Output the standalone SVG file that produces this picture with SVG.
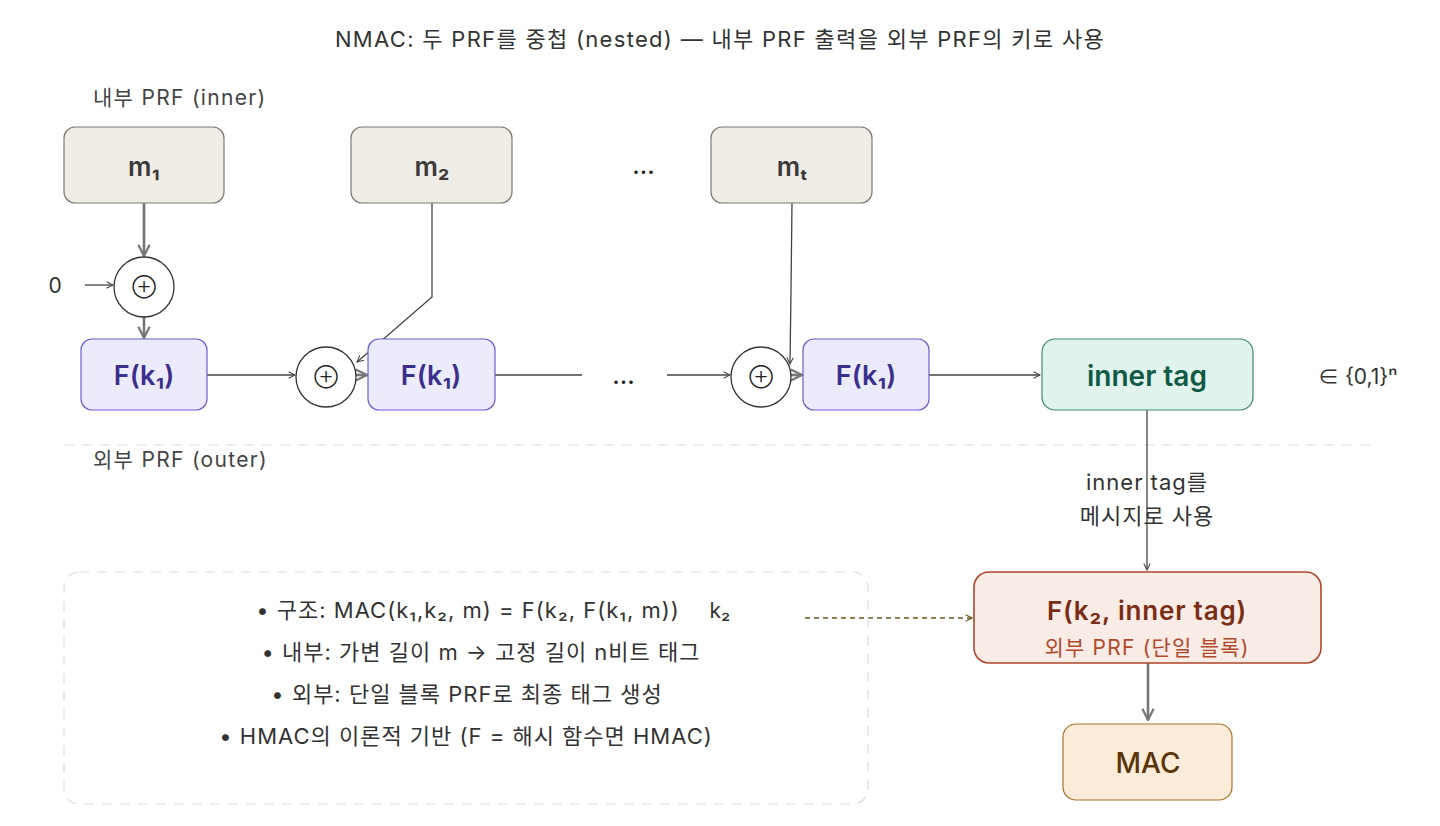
<svg xmlns="http://www.w3.org/2000/svg" width="1440" height="826" viewBox="0 0 1440 826">
<defs>
<style>
text{font-family:Inter,"Noto Sans CJK KR",sans-serif;}
.t{fill:#333;font-size:22px;letter-spacing:1.3px;}
.sec{fill:#444;font-size:21px;letter-spacing:1.3px;}
.msg rect{fill:#f0ede6;stroke:#7d7a72;stroke-width:1.2;}
.msg text{fill:#3a3a3a;font-size:26px;font-weight:600;text-anchor:middle;}
.prf rect{fill:#ecebfb;stroke:#6a5fcf;stroke-width:1.2;}
.prf text{fill:#3b2f8c;font-size:27px;font-weight:600;text-anchor:middle;}
.xor circle{fill:#fff;stroke:#333;stroke-width:1.3;}
.xor text{fill:#222;font-size:17px;text-anchor:middle;}
.thin{stroke:#444;stroke-width:1.3;fill:none;}
.thick{stroke:#777;stroke-width:2.6;fill:none;}
.note{fill:#333;font-size:22px;letter-spacing:1px;text-anchor:middle;}
.dots{fill:#222;font-size:26px;text-anchor:middle;letter-spacing:1px;}
</style>
<marker id="a" viewBox="0 0 10 10" refX="9" refY="5" markerWidth="8" markerHeight="8" markerUnits="userSpaceOnUse" orient="auto"><path d="M1,1 L9,5 L1,9" fill="none" stroke="#444" stroke-width="1.3"/></marker>
<marker id="ak" viewBox="0 0 10 10" refX="9" refY="5" markerWidth="14" markerHeight="14" markerUnits="userSpaceOnUse" orient="auto"><path d="M1,1 L9,5 L1,9" fill="none" stroke="#777" stroke-width="1.6"/></marker>
<marker id="ao" viewBox="0 0 10 10" refX="9" refY="5" markerWidth="8" markerHeight="8" markerUnits="userSpaceOnUse" orient="auto"><path d="M1,1 L9,5 L1,9" fill="none" stroke="#6b5a1e" stroke-width="1.4"/></marker>
</defs>
<rect width="1440" height="826" fill="#fff"/>
<text class="t" x="720" y="47" text-anchor="middle">NMAC: 두 PRF를 중첩 (nested) — 내부 PRF 출력을 외부 PRF의 키로 사용</text>
<text class="sec" x="93" y="105">내부 PRF (inner)</text>
<text class="sec" x="93" y="467">외부 PRF (outer)</text>
<line x1="64" y1="445" x2="1370" y2="445" stroke="#ddd" stroke-width="1.2" stroke-dasharray="10,8"/>

<g id="connectors">
<line class="thick" x1="144" y1="203" x2="144" y2="256" marker-end="url(#ak)"/>
<line class="thick" x1="144" y1="317" x2="144" y2="338" marker-end="url(#ak)"/>
<line class="thin" x1="85" y1="285" x2="113" y2="285" marker-end="url(#a)"/>
<line class="thin" x1="207" y1="375" x2="295" y2="375" marker-end="url(#a)"/>
<polyline class="thin" points="432,203 432,297 357,362" marker-end="url(#a)"/>
<line class="thick" x1="356" y1="375" x2="367" y2="375" marker-end="url(#ak)"/>
<line class="thin" x1="495" y1="375" x2="582" y2="375"/>
<line class="thin" x1="667" y1="375" x2="730" y2="375" marker-end="url(#a)"/>
<polyline class="thin" points="792,203 791,290 790,364" marker-end="url(#a)"/>
<line class="thick" x1="791" y1="375" x2="802" y2="375" marker-end="url(#ak)"/>
<line class="thin" x1="929" y1="375" x2="1040" y2="375" marker-end="url(#a)"/>
<line class="thin" x1="1147" y1="410" x2="1147" y2="570" marker-end="url(#a)"/>
<line x1="805" y1="618" x2="972" y2="618" stroke="#6b5a1e" stroke-width="1.3" stroke-dasharray="5,4" fill="none" marker-end="url(#ao)"/>
<line class="thick" x1="1148" y1="663" x2="1148" y2="720" marker-end="url(#ak)"/>
</g>

<g id="m1" class="msg"><rect x="64" y="127" width="160" height="76" rx="11"/><text x="144" y="176">m₁</text></g>
<g id="m2" class="msg"><rect x="351" y="127" width="161" height="76" rx="11"/><text x="432" y="176">m₂</text></g>
<text class="dots" x="644" y="174">…</text>
<g id="mt" class="msg"><rect x="711" y="127" width="161" height="76" rx="11"/><text x="792" y="176">mₜ</text></g>

<text x="55" y="293" fill="#333" font-size="21" text-anchor="middle">0</text>
<g id="xor1" class="xor"><circle cx="144" cy="287" r="30"/><text x="144" y="293">⊕</text></g>
<g id="xor2" class="xor"><circle cx="326" cy="377" r="30"/><text x="326" y="383">⊕</text></g>
<g id="xor3" class="xor"><circle cx="761" cy="377" r="30"/><text x="761" y="383">⊕</text></g>

<g id="f1" class="prf"><rect x="81" y="339" width="126" height="71" rx="11"/><text x="144" y="385">F(k₁)</text></g>
<g id="f2" class="prf"><rect x="368" y="339" width="127" height="71" rx="11"/><text x="431" y="385">F(k₁)</text></g>
<text class="dots" x="624" y="384">…</text>
<g id="f3" class="prf"><rect x="803" y="339" width="126" height="71" rx="11"/><text x="866" y="385">F(k₁)</text></g>

<g id="innertag"><rect x="1042" y="339" width="211" height="71" rx="13" fill="#e0f3ec" stroke="#3f8a6e" stroke-width="1.2"/><text x="1147" y="386" fill="#0f5a44" font-size="28" font-weight="600" text-anchor="middle">inner tag</text></g>
<text x="1318" y="384" fill="#333" font-size="21">∈ {0,1}ⁿ</text>

<text x="1147" y="490" fill="#333" font-size="22" letter-spacing="1" text-anchor="middle">inner tag를</text>
<text x="1147" y="524" fill="#333" font-size="22" letter-spacing="1" text-anchor="middle">메시지로 사용</text>

<g id="outer"><rect x="974" y="572" width="347" height="91" rx="15" fill="#f9ebe6" stroke="#b0472a" stroke-width="1.6"/><text x="1147" y="620" fill="#7a2d14" font-size="26" font-weight="600" letter-spacing="0.8" text-anchor="middle">F(k₂, inner tag)</text><text x="1147" y="655" fill="#b04a2a" font-size="21" letter-spacing="1.2" text-anchor="middle">외부 PRF (단일 블록)</text></g>

<g id="mac"><rect x="1063" y="724" width="169" height="76" rx="13" fill="#fbecd9" stroke="#a8732a" stroke-width="1.2"/><text x="1148" y="773" fill="#5a3508" font-size="28" font-weight="500" text-anchor="middle">MAC</text></g>

<g id="notes"><rect x="64" y="572" width="804" height="232" rx="15" fill="none" stroke="#ddd" stroke-width="1.2" stroke-dasharray="10,8"/>
<text class="note" x="468" y="618">• 구조: MAC(k₁,k₂, m) = F(k₂, F(k₁, m))</text>
<text x="720" y="618" fill="#333" font-size="21" text-anchor="middle">k₂</text>
<text class="note" x="481" y="660">• 내부: 가변 길이 m → 고정 길이 n비트 태그</text>
<text class="note" x="467" y="702">• 외부: 단일 블록 PRF로 최종 태그 생성</text>
<text class="note" x="466" y="744">• HMAC의 이론적 기반 (F = 해시 함수면 HMAC)</text>
</g>
</svg>
